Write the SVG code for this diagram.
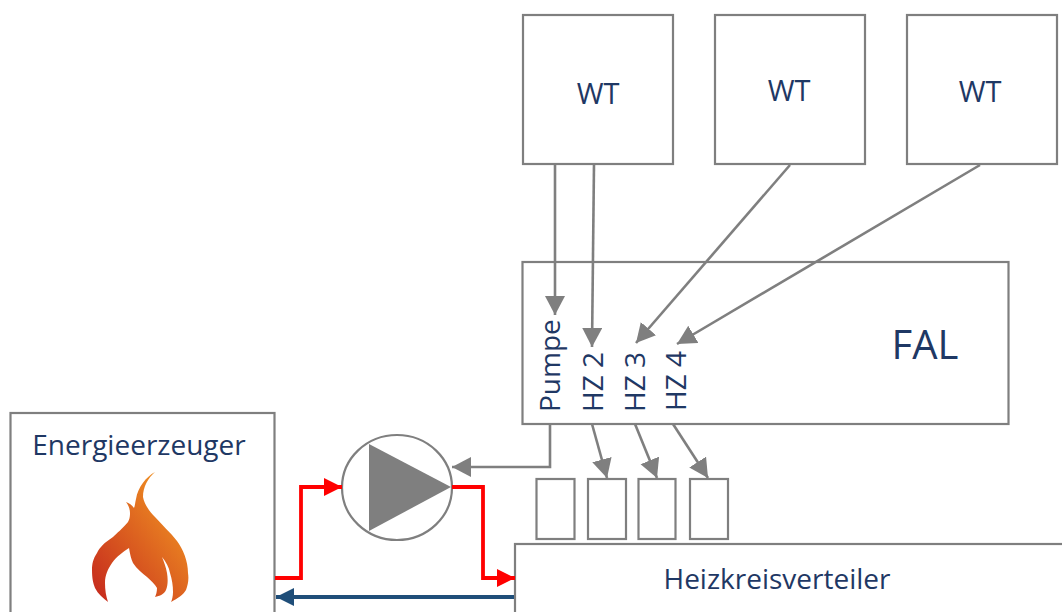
<svg xmlns="http://www.w3.org/2000/svg" width="1062" height="612" viewBox="0 0 1062 612">
<defs>
<marker id="g" markerUnits="userSpaceOnUse" markerWidth="22" markerHeight="22" refX="19" refY="10" orient="auto"><path d="M0 0L19 10L0 20Z" fill="#7f7f7f"/></marker>
<marker id="r" markerUnits="userSpaceOnUse" markerWidth="22" markerHeight="22" refX="18" refY="10" orient="auto"><path d="M0 1L18 10L0 19Z" fill="#f00"/></marker>
<marker id="b" markerUnits="userSpaceOnUse" markerWidth="22" markerHeight="22" refX="18" refY="10" orient="auto"><path d="M0 1L18 10L0 19Z" fill="#1f4e79"/></marker>
<linearGradient id="fl" x1="0" y1="1" x2="1" y2="0"><stop offset="0" stop-color="#c4261d"/><stop offset="1" stop-color="#f7a323"/></linearGradient>
</defs>
<style>
.box{fill:#fff;stroke:#7f7f7f;stroke-width:2.200}
.t{font-family:"Open Sans","Noto Sans",sans-serif;fill:#1f3864}
.c{fill:none;stroke:#7f7f7f;stroke-width:2.600}
.h{fill:none;stroke:#f00;stroke-width:3.800}
</style>
<g id="wt1"><rect class="box" x="523" y="15" width="150" height="149"/><text class="t" x="598" y="104" font-size="29" text-anchor="middle">WT</text></g>
<g id="wt2"><rect class="box" x="715" y="15" width="150" height="149"/><text class="t" x="789" y="101" font-size="29" text-anchor="middle">WT</text></g>
<g id="wt3"><rect class="box" x="907" y="15" width="150" height="149"/><text class="t" x="980" y="102" font-size="29" text-anchor="middle">WT</text></g>
<g id="fal"><rect class="box" x="522.500" y="262" width="486" height="162"/>
<text class="t" x="925" y="359" font-size="40" text-anchor="middle">FAL</text>
<text class="t" transform="translate(560 412) rotate(-90)" font-size="28">Pumpe</text>
<text class="t" transform="translate(603 412) rotate(-90)" font-size="28">HZ 2</text>
<text class="t" transform="translate(645 412) rotate(-90)" font-size="28">HZ 3</text>
<text class="t" transform="translate(686 411) rotate(-90)" font-size="28">HZ 4</text></g>
<g id="erzeuger"><rect class="box" x="10.500" y="413" width="264" height="210"/>
<text class="t" x="139" y="455" font-size="28" text-anchor="middle">Energieerzeuger</text>
<path fill="url(#fl)" d="M155 472C146 477 138 487 136 499C135 503 135 506 134 508C132 505 129 503 126 502C129 506 130 510 130 513C130 518 129 520 128 522C122 529 117 533 113 537C104 543 100 547 97 553C93 559 92 564 92 570C92 578 93 583 95 588C98 594 103 598 108 602C106 596 105 590 105 583C105 575 108 569 112 563C117 556 123 552 129 548C130 554 131 559 133 563C137 569 142 573 147 577C151 581 155 584 157 588C157 592 156 595 155 597C160 596 164 594 166 590C168 585 168 579 167 573C166 567 164 562 162 557C166 562 169 567 170 573C172 579 173 586 173 592C173 596 172 600 171 602C178 598 183 595 186 590C188 585 189 579 188 573C188 561 183 549 177 541C170 532 162 525 155 517C148 510 144 503 143 497C143 487 148 478 155 472Z"/></g>
<g id="pumpe"><ellipse cx="397" cy="487.500" rx="55" ry="52.500" fill="#fff" stroke="#7f7f7f" stroke-width="2.200"/><path d="M369 444L451 487L369 531Z" fill="#7f7f7f"/></g>
<g id="hz1"><rect class="box" x="536.500" y="479" width="38" height="60"/></g>
<g id="hz2"><rect class="box" x="588" y="479" width="38" height="60"/></g>
<g id="hz3"><rect class="box" x="638.500" y="479" width="37" height="60"/></g>
<g id="hz4"><rect class="box" x="690" y="479" width="38" height="60"/></g>
<g id="verteiler"><rect class="box" x="515" y="544" width="560" height="80"/><text class="t" x="777" y="589" font-size="28" text-anchor="middle">Heizkreisverteiler</text></g>
<g id="connectors">
<path class="c" marker-end="url(#g)" d="M555 164V315"/>
<path class="c" marker-end="url(#g)" d="M594 164L592 347"/>
<path class="c" marker-end="url(#g)" d="M790 165L636 343"/>
<path class="c" marker-end="url(#g)" d="M980 165L677 344"/>
<path class="c" marker-end="url(#g)" d="M550 424V467H452"/>
<path class="c" marker-end="url(#g)" d="M592 424L607 478"/>
<path class="c" marker-end="url(#g)" d="M635 424L657 478"/>
<path class="c" marker-end="url(#g)" d="M673 424L708 478"/>
<path class="h" marker-end="url(#r)" d="M275 578H301V487H342"/>
<path class="h" marker-end="url(#r)" d="M452 487H483V578H515"/>
<path fill="none" stroke="#1f4e79" stroke-width="3.800" marker-end="url(#b)" d="M514 597H276"/>
</g>
</svg>
